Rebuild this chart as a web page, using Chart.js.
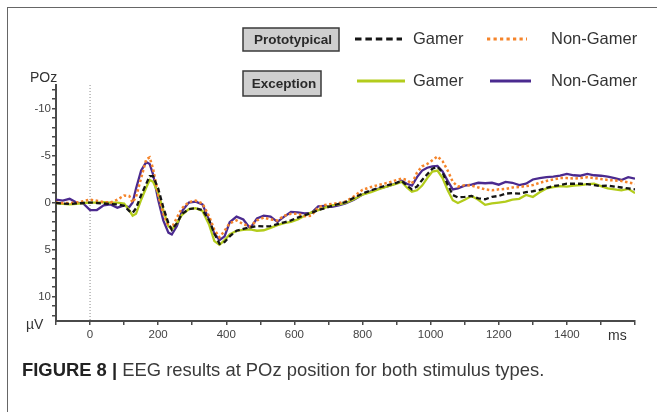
<!DOCTYPE html>
<html>
<head>
<meta charset="utf-8">
<script src="https://cdn.jsdelivr.net/npm/chart.js@4.4.0/dist/chart.umd.min.js"></script>
<style>
  html, body { margin: 0; padding: 0; background: #fff; }
  #wrap { position: relative; width: 657px; height: 412px; overflow: hidden; font-family: "Liberation Sans", Arial, sans-serif; }
  #frame { position: absolute; left: 7px; top: 7px; width: 700px; height: 500px; border: 1.5px solid #666; box-sizing: border-box; }
  #caption { position: absolute; left: 22px; top: 359px; font-size: 18.4px; color: #3a3a3a; white-space: nowrap; }
  #caption b { color: #222; }
  canvas { position: absolute; left: 0; top: 0; }
</style>
</head>
<body>
<div id="wrap">
  <div id="frame"></div>
  <canvas id="eegChart" width="657" height="412"></canvas>
  <div id="caption"><b>FIGURE 8 |</b> EEG results at POz position for both stimulus types.</div>
</div>
<script>
// tempo (ms) - eixo X
const timesMs = [-100, -80, -60, -40, -20, 0, 20, 40, 60, 80, 100, 115, 125, 135, 150, 165, 175, 185, 200, 215,
  230, 240, 255, 270, 290, 310, 330, 350, 365, 380, 395, 410, 430, 450, 470, 490, 510, 530, 550, 570,
  590, 610, 630, 650, 670, 690, 710, 730, 750, 775, 800, 825, 850, 875, 900, 915, 930, 945, 960, 975,
  990, 1005, 1020, 1035, 1050, 1065, 1080, 1100, 1120, 1140, 1160, 1180, 1200, 1220, 1240, 1260, 1280, 1300, 1320, 1340,
  1360, 1380, 1400, 1420, 1440, 1460, 1480, 1500, 1520, 1540, 1560, 1580, 1600];

// amplitude (µV), eixo invertido (negativo pra cima)
const protoGamer = [0.05, 0.1, 0.15, 0.1, 0.05, 0.0, 0.05, 0.1, 0.15, 0.2, 0.35, 0.9, 1.1, 0.6, -0.8, -2.0, -2.8, -2.8, -1.5, 0.5,
  2.2, 2.9, 2.2, 1.2, 0.7, 0.6, 0.8, 1.9, 3.3, 4.4, 4.2, 3.6, 3.0, 2.8, 2.65, 2.5, 2.55, 2.5, 2.3, 2.1,
  1.9, 1.6, 1.35, 1.1, 0.8, 0.6, 0.35, 0.15, -0.05, -0.5, -0.95, -1.3, -1.6, -1.85, -2.1, -2.3, -1.8, -1.4, -1.7, -2.4,
  -3.0, -3.6, -3.8, -3.2, -1.9, -0.8, -0.55, -0.6, -0.7, -0.45, -0.35, -0.6, -0.7, -0.95, -1.0, -0.95, -1.1, -1.2, -1.35, -1.55,
  -1.75, -1.85, -2.0, -2.0, -2.0, -1.95, -1.85, -1.75, -1.8, -1.7, -1.6, -1.5, -1.4];

const protoNonGamer = [0.0, 0.05, 0.05, 0.0, -0.15, -0.3, -0.2, -0.05, 0.0, -0.3, -0.75, -0.7, 0.0, -0.6, -2.6, -4.6, -4.8, -3.6, -0.8, 1.2,
  2.5, 2.7, 1.6, 0.6, -0.05, -0.2, 0.1, 1.5, 2.9, 3.7, 3.0, 2.2, 1.9, 2.3, 2.55, 1.9, 1.6, 1.8, 1.9, 1.4,
  1.2, 1.2, 1.45, 1.4, 0.5, 0.25, 0.15, 0.05, -0.1, -0.65, -1.35, -1.65, -1.9, -2.1, -2.4, -2.55, -2.4, -2.0, -3.2, -3.85,
  -4.1, -4.5, -4.9, -4.4, -3.4, -2.2, -1.7, -1.85, -1.8, -1.6, -1.4, -1.3, -1.4, -1.45, -1.6, -1.65, -1.75, -1.85, -2.1, -2.3,
  -2.45, -2.6, -2.6, -2.55, -2.6, -2.7, -2.6, -2.5, -2.4, -2.35, -2.3, -2.15, -2.0];

const excGamer = [0.05, 0.15, 0.2, 0.15, 0.05, 0.0, 0.0, -0.05, 0.0, 0.0, 0.1, 0.8, 1.4, 1.2, -0.3, -1.6, -2.4, -2.2, -1.0, 0.8,
  2.5, 2.85, 2.2, 1.3, 0.7, 0.6, 0.9, 2.4, 4.1, 4.5, 4.0, 3.4, 3.0, 2.9, 2.85, 3.0, 2.95, 2.7, 2.4, 2.2,
  2.05, 1.8, 1.4, 1.05, 0.8, 0.55, 0.3, 0.2, 0.05, -0.35, -0.85, -1.1, -1.45, -1.75, -2.0, -2.2, -1.6, -1.15, -1.3, -1.8,
  -2.6, -3.3, -3.4, -2.6, -1.3, -0.25, 0.05, -0.3, -0.7, -0.3, 0.25, 0.1, 0.0, -0.1, -0.3, -0.4, -0.8, -0.6, -1.1, -1.5,
  -1.65, -1.75, -1.7, -1.8, -1.85, -1.95, -2.0, -1.75, -1.5, -1.4, -1.3, -1.45, -1.0];

const excNonGamer = [-0.3, -0.2, -0.4, 0.0, 0.1, 0.8, 0.8, 0.3, 0.2, 0.55, 0.3, 0.5, 0.0, -1.5, -3.4, -4.3, -4.1, -3.0, -0.3, 1.9,
  3.2, 3.4, 2.5, 0.9, 0.0, -0.1, 0.2, 1.9, 3.3, 4.0, 3.6, 2.1, 1.5, 1.8, 2.75, 1.7, 1.4, 1.5, 2.05, 1.5,
  1.0, 1.05, 1.15, 1.1, 0.4, 0.35, 0.45, 0.3, 0.1, -0.3, -0.85, -1.2, -1.5, -1.75, -2.05, -2.3, -2.0, -1.8, -2.7, -3.4,
  -3.7, -3.85, -3.9, -3.3, -2.3, -1.4, -1.5, -1.8, -1.9, -2.1, -2.05, -2.1, -1.9, -2.2, -2.1, -1.85, -2.0, -2.45, -2.6, -2.7,
  -2.75, -2.85, -3.05, -2.9, -2.85, -3.05, -2.9, -2.85, -2.75, -2.6, -2.4, -2.7, -2.55];

const groupLabels = ['Prototypical', 'Exception'];
const seriesLabels = ['Gamer', 'Non-Gamer'];
const yTickValues = [-12, -11, -10, -9, -8, -7, -6, -5, -4, -3, -2, -1, 0, 1, 2, 3, 4, 5, 6, 7, 8, 9, 10, 11, 12];
const yTickLabels = [-10, -5, 0, 5, 10];
const xTickLabels = [0, 200, 400, 600, 800, 1000, 1200, 1400];

const FONT = '"Liberation Sans", Arial, sans-serif';
const AXIS_COLOR = '#4a4a4a';

function toPoints(values) {
    return timesMs.map((t, i) => ({ x: t, y: values[i] }));
}

// linha pontilhada no t=0 + textos dos eixos + legenda
const extrasPlugin = {
    id: 'extras',
    beforeDatasetsDraw(chart) {
        const { ctx, chartArea, scales } = chart;
        const x0 = scales.x.getPixelForValue(0);
        ctx.save();
        ctx.strokeStyle = '#8a8a8a';
        ctx.lineWidth = 1;
        ctx.setLineDash([1, 2]);
        ctx.beginPath();
        ctx.moveTo(x0, chartArea.top);
        ctx.lineTo(x0, chartArea.bottom);
        ctx.stroke();
        ctx.restore();
    },
    afterDraw(chart) {
        const { ctx } = chart;
        ctx.save();
        ctx.fillStyle = '#333';
        ctx.font = '14px ' + FONT;
        ctx.textBaseline = 'middle';
        ctx.textAlign = 'left';
        ctx.fillText('POz', 30, 78);
        ctx.fillText('µV', 26, 325);
        ctx.fillText('ms', 608, 336);

        const rows = [
            { y: 39, box: [243, 28, 96, 23], samples: [[355, 402, 413], [487, 527, 551]], ds: [0, 1] },
            { y: 81, box: [243, 71, 78, 25], samples: [[357, 405, 413], [490, 531, 551]], ds: [2, 3] }
        ];
        rows.forEach((r, ri) => {
            const [bx, by, bw, bh] = r.box;
            ctx.fillStyle = '#cfcfcf';
            ctx.fillRect(bx, by, bw, bh);
            ctx.strokeStyle = '#3a3a3a';
            ctx.lineWidth = 1.5;
            ctx.setLineDash([]);
            ctx.strokeRect(bx, by, bw, bh);
            ctx.fillStyle = '#2a2a2a';
            ctx.font = 'bold 13.5px ' + FONT;
            ctx.textAlign = 'center';
            ctx.fillText(groupLabels[ri], bx + bw / 2 + 2, by + bh / 2 + 1);

            r.samples.forEach((s, si) => {
                const ds = chart.data.datasets[r.ds[si]];
                ctx.strokeStyle = ds.borderColor;
                ctx.lineWidth = 3;
                ctx.setLineDash(ds.borderDash ? ds.borderDash.map(d => d * 1.3) : []);
                ctx.beginPath();
                ctx.moveTo(s[0], r.y);
                ctx.lineTo(s[1], r.y);
                ctx.stroke();
                ctx.setLineDash([]);
                ctx.fillStyle = '#333';
                ctx.font = '16.5px ' + FONT;
                ctx.textAlign = 'left';
                ctx.fillText(seriesLabels[si], s[2], r.y);
            });
        });
        ctx.restore();
    }
};

new Chart(document.getElementById('eegChart'), {
    type: 'line',
    data: {
        datasets: [
            {
                label: 'Prototypical Gamer',
                data: toPoints(protoGamer),
                borderColor: '#151515',
                borderWidth: 2.3,
                borderDash: [5, 3]
            },
            {
                label: 'Prototypical Non-Gamer',
                data: toPoints(protoNonGamer),
                borderColor: '#f5842a',
                borderWidth: 2.5,
                borderDash: [2.5, 2.5]
            },
            {
                label: 'Exception Gamer',
                data: toPoints(excGamer),
                borderColor: '#b3cc1c',
                borderWidth: 2.3
            },
            {
                label: 'Exception Non-Gamer',
                data: toPoints(excNonGamer),
                borderColor: '#4b2a8f',
                borderWidth: 2.3
            }
        ]
    },
    options: {
        responsive: false,
        animation: false,
        elements: { point: { radius: 0 }, line: { tension: 0, fill: false } },
        layout: { padding: { left: 0, top: 85, right: 22, bottom: 61 } },
        plugins: { legend: { display: false }, tooltip: { enabled: false } },
        scales: {
            x: {
                type: 'linear',
                min: -100,
                max: 1600,
                afterFit: (s) => { s.height = 30; },
                border: { display: true, color: AXIS_COLOR, width: 2 },
                grid: { drawOnChartArea: false, drawTicks: true, tickLength: 4, color: AXIS_COLOR, lineWidth: 1.5 },
                ticks: {
                    stepSize: 100,
                    autoSkip: false,
                    maxRotation: 0,
                    padding: 3,
                    color: '#444',
                    font: { family: FONT, size: 11.5 },
                    callback: (v) => xTickLabels.includes(v) ? String(v) : ''
                }
            },
            y: {
                type: 'linear',
                min: -12.5,
                max: 12.6,
                reverse: true,
                afterFit: (s) => { s.width = 56; },
                afterBuildTicks: (s) => { s.ticks = yTickValues.map(v => ({ value: v })); },
                border: { display: true, color: AXIS_COLOR, width: 2 },
                grid: { drawOnChartArea: false, drawTicks: true, tickLength: 4, color: AXIS_COLOR, lineWidth: 1.5 },
                ticks: {
                    autoSkip: false,
                    padding: 1,
                    color: '#444',
                    font: { family: FONT, size: 11.5 },
                    callback: (v) => yTickLabels.includes(v) ? String(v) : ''
                }
            }
        }
    },
    plugins: [extrasPlugin]
});
</script>
</body>
</html>
